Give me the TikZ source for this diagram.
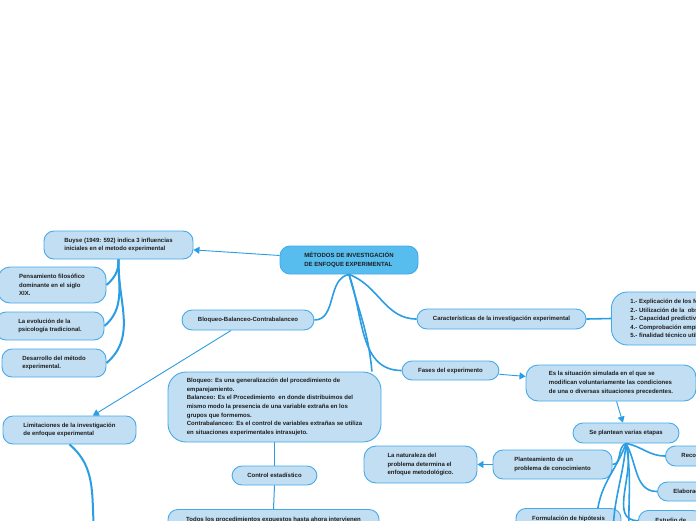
\documentclass[tikz,border=0pt]{standalone}
\usepackage{fontspec}
\setmainfont{Liberation Sans}
\usetikzlibrary{arrows.meta}
\definecolor{mapline}{HTML}{2B9DE3}
\definecolor{mapedge}{HTML}{45AAE8}
\definecolor{mapfill}{HTML}{C2DEF2}
\definecolor{maproot}{HTML}{57BDEF}
\definecolor{maptext}{HTML}{1E1E1E}

\begin{document}
\begin{tikzpicture}[x=1pt, y=-1pt, every node/.style={font=\fontsize{6}{8.6}\selectfont\bfseries, text=maptext}, >={Triangle[length=6pt,width=7pt]}, idea/.style={draw=mapedge, fill=mapfill, line width=0.9pt, rounded corners=10pt, align=left, inner sep=0pt}, branch/.style={draw=mapline, line width=1.6pt}, link/.style={draw=mapline, line width=0.9pt, ->}]
	\useasboundingbox (0,0) rectangle (696,520);
	\clip (0,0) rectangle (696,520);
	% centre and left side
	\node[idea, fill=maproot, minimum width=138pt, minimum height=28pt] (root) at (349,260) {MÉTODOS DE INVESTIGACIÓN\\DE ENFOQUE EXPERIMENTAL};
	\node[idea, minimum width=149pt, minimum height=28pt] (buyse) at (118.5,245) {Buyse (1949: 592) indica 3 influencias\\iniciales en el metodo experimental};
	\node[idea, rounded corners=12pt, minimum width=108pt, minimum height=36pt] (pens) at (52,285) {Pensamiento filosófico\\dominante en el siglo\\XIX.};
	\node[idea, minimum width=108pt, minimum height=28pt] (evol) at (50,326) {La evolución de la\\psicología tradicional.};
	\node[idea, minimum width=104pt, minimum height=28pt] (desa) at (54,363) {Desarrollo del método\\experimental.};
	\node[idea, minimum width=132pt, minimum height=20pt] (bbc) at (248,320) {Bloqueo-Balanceo-Contrabalanceo};
	\node[idea, minimum width=133pt, minimum height=28pt] (limit) at (69.5,430) {Limitaciones de la investigación\\de enfoque experimental};
	\node[idea, rounded corners=18pt, minimum width=213pt, minimum height=70pt] (defs) at (274.5,407) {Bloqueo: Es una generalización del procedimiento de\\emparejamiento.\\Balanceo: Es el Procedimiento\ \ en donde distribuimos del\\mismo modo la presencia de una variable extraña en los\\grupos que formemos.\\Contrabalanceo: Es el control de variables extrañas se utiliza\\en situaciones experimentales intrasujeto.};
	\node[idea, minimum width=85pt, minimum height=19pt] (ctrl) at (274.5,475.5) {Control estadístico};
	\node[idea, anchor=north, minimum width=211pt, inner ysep=8pt] (todos) at (273.5,509) {Todos los procedimientos expuestos hasta ahora intervienen};
	% right side
	\node[idea, minimum width=169pt, minimum height=20pt] (carac) at (501.5,319) {Características de la investigación experimental};
	\node[idea, rounded corners=16pt, anchor=west, inner xsep=19pt, minimum height=53pt] (lista) at (611,318.5) {1.- Explicación de los fenómenos\\2.- Utilización de la\ \ observación\\3.- Capacidad predictiva\\4.- Comprobación empírica\\5.- finalidad técnico utilitaria};
	\node[idea, minimum width=97pt, minimum height=19pt] (fases) at (450.5,370.5) {Fases del experimento};
	\node[idea, rounded corners=12pt, minimum width=170pt, minimum height=36pt] (situ) at (611,383) {Es la situación simulada en el que se\\modifican voluntariamente las condiciones\\de una o diversas situaciones precedentes.};
	\node[idea, minimum width=106pt, minimum height=20pt] (etapas) at (626,433) {Se plantean varias etapas};
	\node[idea, minimum width=119pt, minimum height=29pt] (plant) at (552.5,464.5) {Planteamiento de un\\problema de conocimiento};
	\node[idea, rounded corners=12pt, minimum width=113pt, minimum height=37pt] (natur) at (420.5,464.5) {La naturaleza del\\problema determina el\\enfoque metodológico.};
	\node[idea, anchor=north, minimum width=105pt, inner ysep=8pt] (formu) at (568.5,508) {Formulación de hipótesis};
	\node[idea, anchor=west, inner xsep=16pt, minimum height=20pt] (recop) at (665,456) {Recopilación};
	\node[idea, anchor=west, inner xsep=16pt, minimum height=19pt] (elab) at (657,491.5) {Elaboración};
	\node[idea, anchor=north west, inner xsep=17pt, inner ysep=8pt] (estud) at (638,510) {Estudio de};
	\coordinate (limitend) at (96,545);
	\coordinate (etapend1) at (614,545);
	\coordinate (etapend2) at (630,545);
	% connectors
	\draw[link] (root) -- (buyse);
	\draw[branch, line width=2pt] (buyse.south) to[out=-88,in=40] (pens.east);
	\draw[branch, line width=2pt] (buyse.south) to[out=-90,in=40] (evol.east);
	\draw[branch, line width=2pt] (buyse.south) to[out=-92,in=40] (desa.east);
	\draw[branch] (root.south) to[out=190,in=0] (bbc.east);
	\draw[branch] (root.south) to[out=-20,in=180] (carac.west);
	\draw[branch] (root.south) to[out=-70,in=180] (fases.west);
	\draw[branch] (root.south) to[out=-75,in=95] (defs.20.5);
	\draw[link] (bbc) -- (limit);
	\draw[branch, line width=2pt] (limit.south) to[out=-40,in=100] (limitend);
	\draw[draw=mapline, line width=1pt] (defs.south) -- (ctrl.north);
	\draw[draw=mapline, line width=1pt] (ctrl.south) -- (todos.north);
	\draw[branch] (carac.east) -- (lista.west);
	\draw[link] (fases) -- (situ);
	\draw[link] (situ) -- (etapas);
	\draw[branch] (etapas.south) to[out=200,in=0] (plant.east);
	\draw[branch] (etapas.south) to[out=-10,in=180] (recop.west);
	\draw[branch] (etapas.south) to[out=-60,in=180] (elab.west);
	\draw[branch] (etapas.south) to[out=-110,in=80] (formu.21);
	\draw[branch] (etapas.south) to[out=-95,in=95] (etapend1);
	\draw[branch] (etapas.south) to[out=-80,in=95] (etapend2);
	\draw[branch] (etapas.south) to[out=-70,in=180] (estud.west);
	\draw[link] (plant) -- (natur);
\end{tikzpicture}
\end{document}
